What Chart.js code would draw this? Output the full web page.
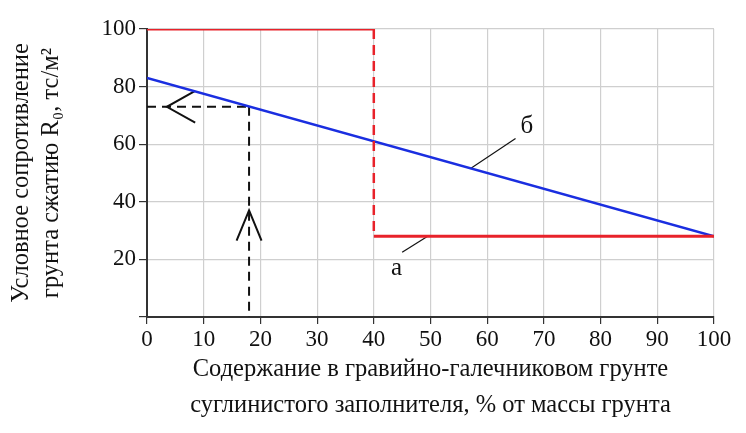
<!DOCTYPE html>
<html><head><meta charset="utf-8">
<script src="https://cdn.jsdelivr.net/npm/chart.js@4"></script>
<style>html,body{margin:0;padding:0;background:#fff}#w{width:746px;height:433px}</style>
</head><body><div id="w"><canvas id="c"></canvas></div>
<script>
const xTicks=[0,10,20,30,40,50,60,70,80,90,100];
const yTicks=[20,40,60,80,100];
const lineB=[{x:0,y:83},{x:100,y:28}];
const lineA_top=[{x:0,y:100},{x:40,y:100}];
const lineA_drop=[{x:40,y:100},{x:40,y:28}];
const lineA_low=[{x:40,y:28},{x:100,y:28}];
const guideH=[{x:0,y:73},{x:18,y:73}];
const guideV=[{x:18,y:73},{x:18,y:0}];
const arrowLeft=[{x:8.5,y:78.5},{x:3.5,y:73},{x:8.5,y:67.5}];
const arrowUp=[{x:15.8,y:26.5},{x:18,y:37},{x:20.2,y:26.5}];
const leaderB=[{x:57,y:51.5},{x:65,y:62}];
const leaderA=[{x:45,y:22.5},{x:49.5,y:28}];
const labels=[{t:'б',x:67,y:66},{t:'а',x:44,y:17}];
const ds=(d,c,w,dash)=>({data:d,borderColor:c,borderWidth:w,borderDash:dash||[],pointRadius:0,fill:false,tension:0});
const font='"Liberation Serif","DejaVu Serif",serif';
const txt={id:'txt',afterDatasetsDraw(ch){const {ctx,scales:{x,y}}=ch;ctx.save();ctx.font='25px '+font;ctx.fillStyle='#111';ctx.textAlign='center';ctx.textBaseline='middle';labels.forEach(l=>ctx.fillText(l.t,x.getPixelForValue(l.x),y.getPixelForValue(l.y)));ctx.restore();}};
new Chart(document.getElementById('c'),{type:'line',
data:{datasets:[ds(lineA_top,'#e8222a',3),ds(lineA_drop,'#e8222a',2.5,[10,6]),ds(lineA_low,'#e8222a',3),ds(lineB,'#1a2ee0',2.5),
ds(guideH,'#111',2,[9,6]),ds(guideV,'#111',2,[9,6]),ds(arrowLeft,'#111',2),ds(arrowUp,'#111',2),ds(leaderB,'#111',1.2),ds(leaderA,'#111',1.2)]},
options:{responsive:true,maintainAspectRatio:false,animation:false,
layout:{padding:{top:29,right:32,left:2,bottom:6}},
plugins:{legend:{display:false},tooltip:{enabled:false}},
scales:{
x:{type:'linear',min:0,max:100,afterBuildTicks:s=>{s.ticks=xTicks.map(v=>({value:v}));},
grid:{color:'#cfcfcf',tickColor:'#333',tickLength:7,lineWidth:1.2},border:{color:'#333',width:2},
ticks:{color:'#111',font:{family:font,size:23},padding:2},
title:{display:true,text:['Содержание в гравийно-галечниковом грунте','суглинистого заполнителя, % от массы грунта'],color:'#111',font:{family:font,size:24.5,lineHeight:1.45},padding:{top:0}},
afterFit:s=>{s.height=110;}},
y:{min:0,max:100,afterBuildTicks:s=>{s.ticks=[0,...yTicks].map(v=>({value:v}));},
grid:{color:'#cfcfcf',tickColor:'#333',tickLength:8,lineWidth:1.2},border:{color:'#333',width:2},
ticks:{color:'#111',font:{family:font,size:23},padding:3,callback:v=>v===0?'':v},
title:{display:true,text:['Условное сопротивление','грунта сжатию R₀, тс/м²'],color:'#111',font:{family:font,size:24.5,lineHeight:1.25},padding:{bottom:4}},
afterFit:s=>{s.width=145;}}}},
plugins:[txt]});
</script></body></html>
